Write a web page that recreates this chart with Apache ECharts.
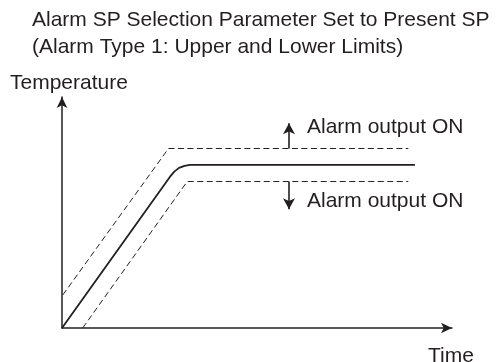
<!DOCTYPE html>
<html>
<head>
<meta charset="utf-8">
<title>Alarm SP Selection</title>
<script src="https://cdn.jsdelivr.net/npm/echarts@6/dist/echarts.min.js"></script>
<style>
  html, body { margin: 0; padding: 0; background: #fff; }
  #chart { width: 500px; height: 362px; }
</style>
</head>
<body>
<div id="chart"></div>
<script>
// Present SP profile: ramp, rounded knee, then constant (time, temperature)
const presentSP = [[0, 0], [27.7, 65.5], [28.8, 67.7], [30.0, 69.3], [31.4, 70.2], [32.8, 70.6], [90.5, 70.6]];
// Upper alarm limit (dashed)
const upperLimit = [[0.2, 14.3], [27.3, 77.7], [88.8, 77.7]];
// Lower alarm limit (dashed)
const lowerLimit = [[5.3, 0], [32.1, 63.4], [88.8, 63.4]];
// Alarm output arrows: [from, to]
const upperArrow = [[58.2, 77.7], [58.2, 88.6]];
const lowerArrow = [[58.2, 63.4], [58.2, 51.4]];

const titleLines = [
  'Alarm SP Selection Parameter Set to Present SP',
  '(Alarm Type 1: Upper and Lower Limits)'
];
const yName = 'Temperature';
const xName = 'Time';
const alarmLabel = 'Alarm output ON';

const ink = '#231f20';
const font = '"Liberation Sans", Arial, Helvetica, sans-serif';

function txt(text, left, top) {
  return {
    text: text, left: left, top: top, padding: 0,
    textStyle: { fontFamily: font, fontSize: 21, fontWeight: 'normal', color: ink }
  };
}

const chart = echarts.init(document.getElementById('chart'), null, { renderer: 'canvas' });

chart.setOption({
  animation: false,
  backgroundColor: '#fff',
  title: [
    txt(titleLines[0], 32, 10),
    txt(titleLines[1], 32, 37),
    txt(yName, 10, 73),
    txt(alarmLabel, 307, 116.5),
    txt(alarmLabel, 307, 190.5),
    txt(xName, 428, 346)
  ],
  grid: { left: 62, right: 48, top: 97, bottom: 34 },
  xAxis: {
    type: 'value', min: 0, max: 100,
    axisLine: { show: true, symbol: ['none', 'arrow'], symbolSize: [8, 11], lineStyle: { color: ink, width: 1.5 } },
    axisTick: { show: false }, axisLabel: { show: false }, splitLine: { show: false }
  },
  yAxis: {
    type: 'value', min: 0, max: 100,
    axisLine: { show: true, symbol: ['none', 'arrow'], symbolSize: [8, 11], lineStyle: { color: ink, width: 1.5 } },
    axisTick: { show: false }, axisLabel: { show: false }, splitLine: { show: false }
  },
  series: [
    {
      type: 'line', data: presentSP, showSymbol: false, smooth: false,
      lineStyle: { color: ink, width: 1.8 }, z: 3
    },
    {
      type: 'line', data: upperLimit, showSymbol: false,
      lineStyle: { color: ink, width: 1, type: [6, 3.5] }
    },
    {
      type: 'line', data: lowerLimit, showSymbol: false,
      lineStyle: { color: ink, width: 1, type: [6, 3.5] }
    },
    {
      type: 'line', data: [], showSymbol: false,
      markLine: {
        silent: true, symbol: ['none', 'arrow'], symbolSize: [9, 11],
        label: { show: false },
        lineStyle: { color: ink, width: 1.6, type: 'solid' },
        data: [
          [{ coord: upperArrow[0] }, { coord: upperArrow[1] }],
          [{ coord: lowerArrow[0] }, { coord: lowerArrow[1] }]
        ]
      }
    }
  ]
});
</script>
</body>
</html>
